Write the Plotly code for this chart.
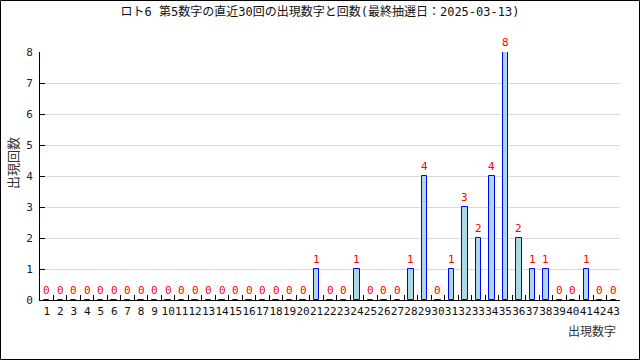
import plotly.graph_objects as go

numbers = [str(i) for i in range(1, 44)]
counts = [0]*20 + [1, 0, 0, 1, 0, 0, 0, 1, 4, 0, 1, 3, 2, 4, 8, 2, 1, 1, 0, 0, 1, 0, 0]
title_text = "ロト6 第5数字の直近30回の出現数字と回数(最終抽選日：2025-03-13)"
x_title = "出現数字"
y_title = "出現回数"

FONT = "DejaVu Sans Mono, Noto Sans CJK JP"

fig = go.Figure()
fig.add_trace(go.Bar(
    x=numbers, y=counts, width=0.4,
    marker=dict(color="#add8e6", line=dict(color="#0000ff", width=1)),
    hoverinfo="x+y",
))
for idx, c in enumerate(counts):
    fig.add_annotation(x=idx, y=c, text=str(c), showarrow=False, yshift=10,
                       xanchor="center", yanchor="middle",
                       font=dict(color="#ff0000", size=11, family=FONT))

L, R, T, B = 40, 20, 52, 60
W, H = 640, 360
pw, ph = W - L - R, H - T - B

fig.update_layout(
    width=W, height=H, margin=dict(l=L, r=R, t=T, b=B, autoexpand=False),
    paper_bgcolor="white", plot_bgcolor="white", showlegend=False,
    font=dict(family=FONT, size=11, color="#222"),
    title=dict(text=title_text, x=0.5, xanchor="center", y=1 - 12/H, yanchor="middle",
               font=dict(size=12, color="#111", family=FONT)),
    bargap=0.0,
)
fig.update_xaxes(
    type="category", range=[-0.5, 42.5], showline=True, linecolor="black", linewidth=1,
    ticks="inside", tickson="boundaries", ticklen=5, tickcolor="black", tickangle=0,
    ticklabelstandoff=1,
    showgrid=False, tickfont=dict(size=11, color="#111"), fixedrange=True, automargin=False,
)
fig.update_yaxes(
    range=[0, 8], tickvals=list(range(0, 9)), showline=True, linecolor="black",
    linewidth=1, ticks="inside", ticklen=5, tickcolor="black", ticklabelstandoff=4,
    showgrid=True, gridcolor="#dadada", gridwidth=1, zeroline=False,
    tickfont=dict(size=11, color="#222"), fixedrange=True, automargin=False,
)
fig.add_annotation(text=x_title, xref="paper", yref="paper", x=1 - 2/pw, y=-19.5/ph,
                   xanchor="right", yanchor="top", showarrow=False,
                   font=dict(size=12, color="#333", family="Noto Sans CJK JP"))
fig.add_annotation(text=y_title, xref="paper", yref="paper", x=-28/pw, y=(300-163)/ph,
                   xanchor="center", yanchor="middle", textangle=-90, showarrow=False,
                   font=dict(size=13, color="#333", family="Noto Sans CJK JP"))
fig.add_shape(type="rect", xref="paper", yref="paper",
              x0=-(L-0.5)/pw, x1=(pw+R-0.5)/pw, y0=-(B-0.5)/ph, y1=1+(T-0.5)/ph,
              line=dict(color="black", width=1), fillcolor="rgba(0,0,0,0)", layer="above")

fig.write_html("out.html", config={"displayModeBar": False},
               post_script="document.body.style.margin='0';document.body.style.overflow='hidden';")
